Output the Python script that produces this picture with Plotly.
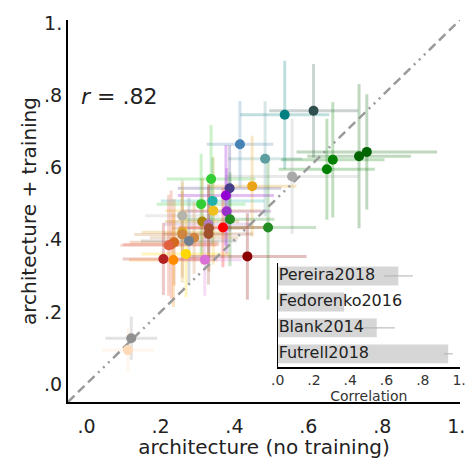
import plotly.graph_objects as go

# ---- main scatter data: architecture (no training) vs architecture + training ----
x_untrained = [0.415, 0.483, 0.536, 0.614, 0.666, 0.650, 0.737, 0.758, 0.556,
               0.337, 0.387, 0.448, 0.377, 0.341, 0.310, 0.343, 0.379, 0.259,
               0.388, 0.313, 0.330, 0.331, 0.369, 0.491, 0.330, 0.259, 0.259,
               0.291, 0.277, 0.229, 0.237, 0.222, 0.269, 0.208, 0.235, 0.320,
               0.435, 0.121, 0.112]
y_trained = [0.665, 0.625, 0.747, 0.758, 0.622, 0.596, 0.632, 0.644, 0.576,
             0.569, 0.543, 0.549, 0.523, 0.508, 0.499, 0.481, 0.479, 0.467,
             0.457, 0.451, 0.443, 0.432, 0.434, 0.434, 0.416, 0.421, 0.415,
             0.406, 0.397, 0.387, 0.393, 0.385, 0.361, 0.347, 0.344, 0.345,
             0.354, 0.127, 0.094]
x_err = [0.09, 0.10, 0.12, 0.12, 0.14, 0.13, 0.14, 0.19, 0.18,
         0.12, 0.14, 0.12, 0.13, 0.14, 0.12, 0.13, 0.12, 0.10,
         0.12, 0.10, 0.12, 0.10, 0.12, 0.13, 0.12, 0.11, 0.13,
         0.12, 0.13, 0.13, 0.12, 0.13, 0.12, 0.11, 0.12, 0.10,
         0.16, 0.07, 0.07]
y_err = [0.12, 0.16, 0.15, 0.13, 0.16, 0.14, 0.20, 0.16, 0.16,
         0.15, 0.12, 0.14, 0.14, 0.12, 0.14, 0.15, 0.12, 0.10,
         0.13, 0.12, 0.10, 0.12, 0.11, 0.20, 0.14, 0.14, 0.12,
         0.10, 0.12, 0.15, 0.12, 0.14, 0.12, 0.10, 0.13, 0.10,
         0.12, 0.06, 0.06]
point_colors = ["#4682b4", "#5f9ea0", "#008080", "#2f4f4f", "#008000", "#008000",
                "#006400", "#006400", "#a9a9a9", "#32cd32", "#483d8b", "#e8a317",
                "#9400d3", "#20b2aa", "#32cd32", "#f0c020", "#9932cc", "#b4b4aa",
                "#228b22", "#a8860b", "#b07cc0", "#a0522d", "#ff0000", "#228b22",
                "#a0522d", "#daa520", "#cd853f", "#cd853f", "#708090", "#e0583a",
                "#d2691e", "#e06040", "#ffd700", "#b22222", "#ff8c00", "#da70d6",
                "#8b0000", "#909090", "#ffdab9"]
r_text = "<i>r</i> = .82"

# ---- inset bar chart ----
datasets = ["Pereira2018", "Fedorenko2016", "Blank2014", "Futrell2018"]
correlation = [0.665, 0.366, 0.546, 0.94]
corr_err = [0.08, 0.0, 0.10, 0.025]
n_stars = [6, 1, 4, 7]

ticks_main = [0, 0.2, 0.4, 0.6, 0.8, 1.0]
ticktext_main = [".0", ".2", ".4", ".6", ".8", "1."]
diag = [-0.05, 1.01]


def rgba(hex_color, a):
    h = hex_color.lstrip("#")
    r, g, b = int(h[0:2], 16), int(h[2:4], 16), int(h[4:6], 16)
    return f"rgba({r},{g},{b},{a})"


fig = go.Figure()

# error bars (one trace per model, so each gets its own colour)
for xi, yi, ex, ey, c in zip(x_untrained, y_trained, x_err, y_err, point_colors):
    fig.add_trace(go.Scatter(
        x=[xi], y=[yi], mode="markers",
        marker=dict(size=1, opacity=0),
        error_x=dict(type="data", array=[ex], color=rgba(c, 0.25), thickness=3, width=0),
        error_y=dict(type="data", array=[ey], color=rgba(c, 0.25), thickness=3, width=0),
        showlegend=False, hoverinfo="skip"))

# identity line
fig.add_trace(go.Scatter(
    x=diag, y=diag, mode="lines",
    line=dict(color="#9a9a9a", width=2.5,
              dash="9px,5px,9px,5px,9px,5px,2px,5px,2px,5px,2px,5px"),
    showlegend=False, hoverinfo="skip"))

# markers
fig.add_trace(go.Scatter(
    x=x_untrained, y=y_trained, mode="markers",
    marker=dict(size=10, color=point_colors, line=dict(width=0)),
    showlegend=False))

# inset bars
bar_pos = list(range(len(datasets)))
fig.add_trace(go.Bar(
    x=correlation, y=bar_pos, orientation="h", width=0.73,
    marker=dict(color="#d6d6d6", line=dict(width=0)),
    error_x=dict(type="data", array=corr_err, color="#b0b0b0", thickness=1, width=0),
    xaxis="x2", yaxis="y2", showlegend=False))

fig.add_trace(go.Scatter(
    x=[0.005] * len(datasets), y=bar_pos, mode="text", text=datasets,
    textposition="middle right",
    textfont=dict(family="DejaVu Sans", size=16, color="#222222"),
    xaxis="x2", yaxis="y2", showlegend=False, cliponaxis=False))

# significance stars
sx, sy = [], []
for pos, n in zip(bar_pos, n_stars):
    for k in range(n):
        sx.append(-0.025)
        if n == 1:
            sy.append(pos)
        else:
            sy.append(pos - 0.4 + 0.8 * k / (n - 1))
fig.add_trace(go.Scatter(
    x=sx, y=sy, mode="markers",
    marker=dict(size=2.5, color="#555555"),
    xaxis="x2", yaxis="y2", showlegend=False, cliponaxis=False, hoverinfo="skip"))

font_tick = dict(family="DejaVu Sans", size=19, color="#222222")
font_title = dict(family="DejaVu Sans", size=20, color="#222222")
font_small = dict(family="DejaVu Sans", size=14, color="#333333")

fig.update_layout(
    width=473, height=459,
    margin=dict(l=68, r=7, t=20, b=57),
    paper_bgcolor="white", plot_bgcolor="white",
    font=dict(family="DejaVu Sans", color="#222222"),
    xaxis=dict(domain=[0, 1], range=[-0.05, 1.01],
               showline=True, linecolor="black", linewidth=2,
               showgrid=False, zeroline=False, ticks="",
               tickvals=ticks_main, ticktext=ticktext_main,
               tickfont=font_tick, ticklabelstandoff=6,
               title=dict(text="architecture (no training)", font=font_title, standoff=1)),
    yaxis=dict(domain=[0, 1], range=[-0.05, 1.01],
               showline=True, linecolor="black", linewidth=2,
               showgrid=False, zeroline=False, ticks="",
               tickvals=ticks_main, ticktext=ticktext_main,
               tickfont=font_tick,
               title=dict(text="architecture + training", font=font_title, standoff=2)),
    xaxis2=dict(domain=[0.535, 1.0], range=[0, 1.005], anchor="y2",
                showline=True, linecolor="black", linewidth=1.5,
                showgrid=False, zeroline=False, ticks="",
                tickvals=ticks_main, ticktext=ticktext_main,
                tickfont=font_small,
                title=dict(text="Correlation", font=font_small, standoff=0)),
    yaxis2=dict(domain=[0.092, 0.364], range=[3.5, -0.5], anchor="x2",
                showline=True, linecolor="black", linewidth=1,
                showgrid=False, zeroline=False, showticklabels=False, ticks=""),
    annotations=[dict(x=-0.02, y=0.797, xref="x", yref="y", text=r_text,
                      showarrow=False, xanchor="left", yanchor="middle",
                      font=dict(family="DejaVu Sans", size=22, color="#222222"))],
)

fig.write_html("out.html")
